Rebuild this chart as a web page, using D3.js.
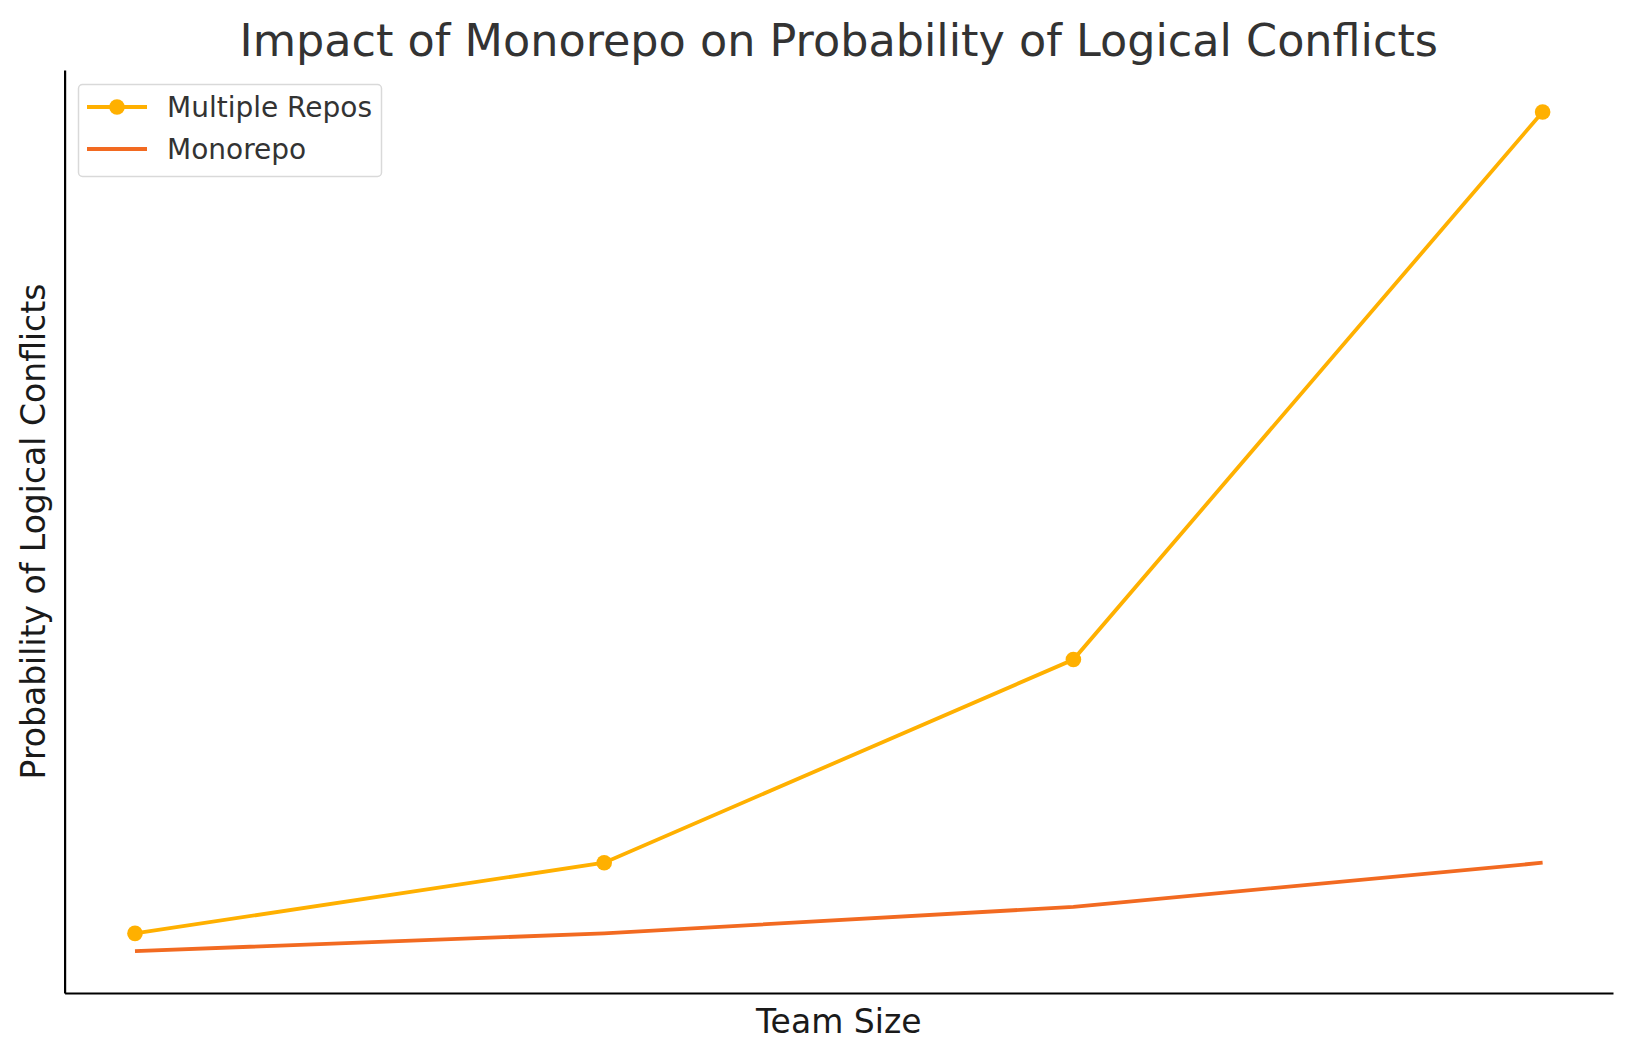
<!DOCTYPE html>
<html><head><meta charset="utf-8">
<script src="https://cdn.jsdelivr.net/npm/d3@7"></script>
<style>body{margin:0;background:#fff}svg{display:block}text{font-family:"DejaVu Sans",sans-serif}</style>
</head><body>
<svg id="c" width="1634" height="1058"></svg>
<script>
const categories = ["Small", "Medium", "Large", "Very Large"];
const multipleRepos = [0.07, 0.15, 0.38, 1.0];
const monorepo = [0.05, 0.07, 0.10, 0.15];
const seriesNames = ["Multiple Repos", "Monorepo"];

(function () {
const svg = d3.select("#c");
const mL = 64.6, mR = 1613, mT = 70, mB = 993;

const xi = d3.scaleLinear().domain([-0.15, categories.length - 1 + 0.15]).range([mL, mR]);
const allV = multipleRepos.concat(monorepo);
const lo = d3.min(allV), hi = d3.max(allV), pad = (hi - lo) * 0.05;
const y = d3.scaleLinear().domain([lo - pad, hi + pad]).range([mB, mT]);

const line = d3.line().x((d, i) => xi(i)).y(d => y(d));

svg.append("path").datum(monorepo).attr("d", line)
  .attr("fill", "none").attr("stroke", "#F26A21").attr("stroke-width", 3.8);
svg.append("path").datum(multipleRepos).attr("d", line)
  .attr("fill", "none").attr("stroke", "#FFB000").attr("stroke-width", 3.8);
svg.selectAll("circle.m").data(multipleRepos).enter().append("circle")
  .attr("cx", (d, i) => xi(i)).attr("cy", d => y(d)).attr("r", 7.8).attr("fill", "#FFB000");

const xAxis = d3.axisBottom(d3.scaleLinear().domain([0,1]).range([mL, mR])).tickValues([]).tickSizeOuter(0);
const yAxis = d3.axisLeft(d3.scaleLinear().domain([0,1]).range([mB, mT])).tickValues([]).tickSizeOuter(0);
svg.append("g").attr("transform", `translate(0,${mB})`).call(xAxis)
  .select(".domain").attr("stroke", "#000").attr("stroke-width", 2.2);
svg.append("g").attr("transform", `translate(${mL},0)`).call(yAxis)
  .select(".domain").attr("stroke", "#000").attr("stroke-width", 2.2);

svg.append("text").attr("x", (mL + mR) / 2).attr("y", 56).attr("text-anchor", "middle")
  .attr("font-size", 44.5).attr("fill", "#333").text("Impact of Monorepo on Probability of Logical Conflicts");
svg.append("text").attr("x", (mL + mR) / 2).attr("y", 1033).attr("text-anchor", "middle")
  .attr("font-size", 33).attr("fill", "#1a1a1a").text("Team Size");
svg.append("text").attr("transform", `translate(45,${(mT + mB) / 2}) rotate(-90)`).attr("text-anchor", "middle")
  .attr("font-size", 33).attr("fill", "#1a1a1a").text("Probability of Logical Conflicts");

const lg = svg.append("g");
lg.append("rect").attr("x", 78.5).attr("y", 84.5).attr("width", 303).attr("height", 92).attr("rx", 4)
  .attr("fill", "#fff").attr("stroke", "#d9d9d9").attr("stroke-width", 1.5);
const colors = ["#FFB000", "#F26A21"];
seriesNames.forEach((n, i) => {
  const yy = 107 + i * 42;
  lg.append("line").attr("x1", 87).attr("x2", 147).attr("y1", yy).attr("y2", yy)
    .attr("stroke", colors[i]).attr("stroke-width", 3.8);
  if (i === 0) lg.append("circle").attr("cx", 117).attr("cy", yy).attr("r", 7.8).attr("fill", colors[i]);
  lg.append("text").attr("x", 167).attr("y", yy + 10).attr("font-size", 28).attr("fill", "#333").text(n);
});
})();
</script>
</body></html>
